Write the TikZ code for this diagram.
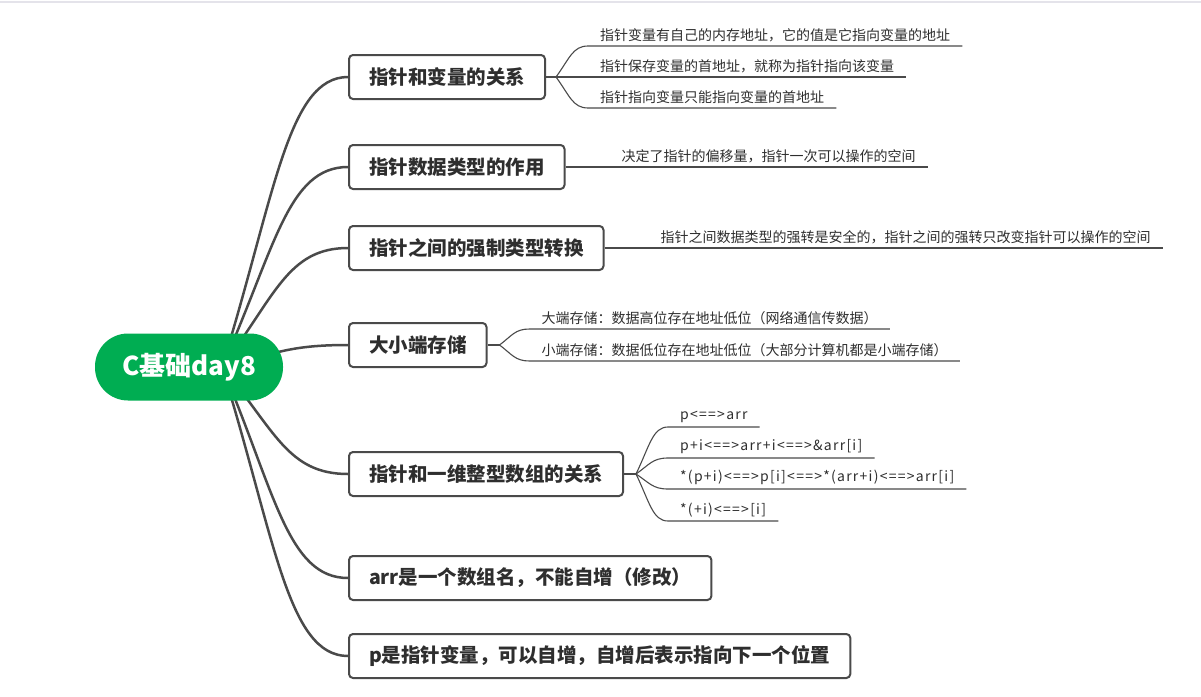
\documentclass[tikz,border=0pt]{standalone}
\usepackage{fontspec}
\setmainfont{Noto Sans CJK SC}
\usetikzlibrary{calc}
\definecolor{rootgreen}{HTML}{00AD52}
\definecolor{linegray}{HTML}{4A4A4A}
\definecolor{textgray}{HTML}{2E2E2E}
\definecolor{bargray}{HTML}{E4E3EA}
\tikzset{
    curvy/.style={to path={let \p1=(\tikztostart), \p2=(\tikztotarget) in
        .. controls ({\x1+0.42*(\x2-\x1)},{\y1+0.59*(\y2-\y1)}) and ({\x1+0.52*(\x2-\x1)},\y2) .. (\tikztotarget) \tikztonodes}},
    rootbox/.style={fill=rootgreen, text=white, rounded corners=33, minimum width=188, minimum height=67,
        inner sep=0, font=\fontsize{26}{30}\selectfont\bfseries},
    topicbox/.style={draw=linegray, line width=2, rounded corners=4, fill=white, text=textgray, anchor=west,
        inner xsep=20, minimum height=44, font=\fontsize{19.5}{22}\selectfont\bfseries},
    leaftext/.style={text=textgray, anchor=south west, inner xsep=12, inner ysep=4,
        font=\fontsize{14}{16}\selectfont},
    codetext/.style={leaftext, font=\fontsize{14}{16}\selectfont\addfontfeature{LetterSpace=9}},
    mainline/.style={draw=linegray, line width=2.5, curvy},
    leafline/.style={draw=linegray, line width=1.1, curvy}
}

\begin{document}
\begin{tikzpicture}[x=1pt, y=-1pt]
    \useasboundingbox (0,0) rectangle (1201,696);
    \draw[bargray, line width=2] (0,1.5) -- (1201,1.5);

    \coordinate (hub) at (222,367);
    \node[topicbox] (rel) at (348,77) {指针和变量的关系};
    \node[topicbox] (type) at (348,167) {指针数据类型的作用};
    \node[topicbox] (cast) at (348,248) {指针之间的强制类型转换};
    \node[topicbox] (endian) at (348,345) {大小端存储};
    \node[topicbox] (arr) at (348,474) {指针和一维整型数组的关系};
    \node[topicbox] (name) at (348,578) {arr是一个数组名，不能自增（修改）};
    \node[topicbox] (ptr) at (348,656) {p是指针变量，可以自增，自增后表示指向下一个位置};

    \path[mainline] (hub) to (rel.west);
    \path[mainline] (hub) to (type.west);
    \path[mainline] (hub) to (cast.west);
    \path[mainline] (hub) to (endian.west);
    \path[mainline] (hub) to (arr.west);
    \path[mainline] (hub) to (name.west);
    \path[mainline] (hub) to (ptr.west);

    \node[rootbox] (root) at (189,367) {C基础day8};

    \coordinate (relhub) at ([xshift=10]rel.east);
    \node[leaftext] (rel1) at ([xshift=32,yshift=31]relhub) {指针变量有自己的内存地址，它的值是它指向变量的地址};
    \node[leaftext] (rel2) at ([xshift=32]relhub) {指针保存变量的首地址，就称为指针指向该变量};
    \node[leaftext] (rel3) at ([xshift=32,yshift=-31]relhub) {指针指向变量只能指向变量的首地址};
    \draw[leafline] (rel.east) -- (relhub);
    \draw[leafline] (relhub) to (rel1.south west) -- (rel1.south east);
    \draw[leafline] (relhub) to (rel2.south west) -- (rel2.south east);
    \draw[leafline] (relhub) to (rel3.south west) -- (rel3.south east);

    \coordinate (typehub) at ([xshift=12]type.east);
    \node[leaftext] (type1) at ([xshift=32]typehub) {决定了指针的偏移量，指针一次可以操作的空间};
    \draw[leafline] (type.east) -- (type1.south west) -- (type1.south east);

    \coordinate (casthub) at ([xshift=12]cast.east);
    \node[leaftext] (cast1) at ([xshift=32]casthub) {指针之间数据类型的强转是安全的，指针之间的强转只改变指针可以操作的空间};
    \draw[leafline] (cast.east) -- (cast1.south west) -- (cast1.south east);

    \coordinate (endianhub) at ([xshift=12]endian.east);
    \node[leaftext] (endian1) at ([xshift=30,yshift=16]endianhub) {大端存储：数据高位存在地址低位（网络通信传数据）};
    \node[leaftext] (endian2) at ([xshift=30,yshift=-16]endianhub) {小端存储：数据低位存在地址低位（大部分计算机都是小端存储）};
    \draw[leafline] (endian.east) -- (endianhub);
    \draw[leafline] (endianhub) to (endian1.south west) -- (endian1.south east);
    \draw[leafline] (endianhub) to (endian2.south west) -- (endian2.south east);

    \coordinate (arrhub) at ([xshift=12]arr.east);
    \node[codetext] (arr1) at ([xshift=32,yshift=47]arrhub) {p<==>arr};
    \node[codetext] (arr2) at ([xshift=32,yshift=16]arrhub) {p+i<==>arr+i<==>\&arr[i]};
    \node[codetext] (arr3) at ([xshift=32,yshift=-15]arrhub) {*(p+i)<==>p[i]<==>*(arr+i)<==>arr[i]};
    \node[codetext] (arr4) at ([xshift=32,yshift=-47]arrhub) {*(+i)<==>[i]};
    \draw[leafline] (arr.east) -- (arrhub);
    \draw[leafline] (arrhub) to (arr1.south west) -- (arr1.south east);
    \draw[leafline] (arrhub) to (arr2.south west) -- (arr2.south east);
    \draw[leafline] (arrhub) to (arr3.south west) -- (arr3.south east);
    \draw[leafline] (arrhub) to (arr4.south west) -- (arr4.south east);
\end{tikzpicture}
\end{document}
